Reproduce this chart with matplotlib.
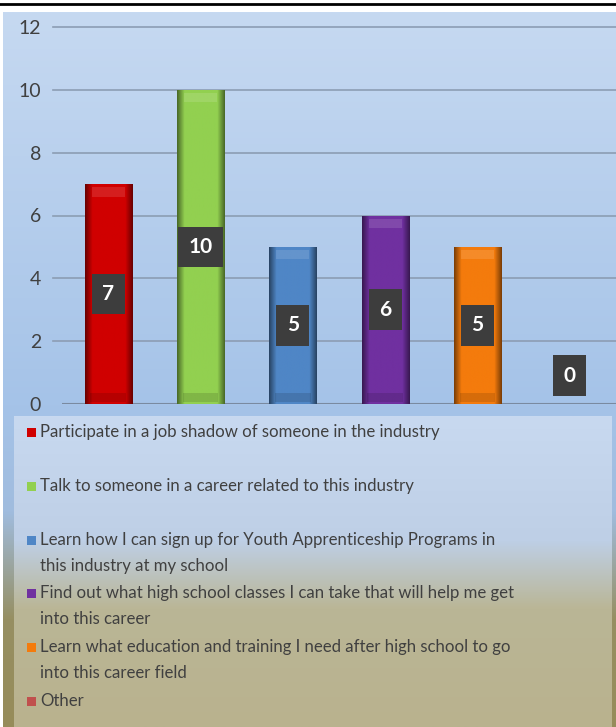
import matplotlib
matplotlib.use("Agg")
import matplotlib.pyplot as plt
import numpy as np
from matplotlib.patches import Rectangle
from matplotlib.colors import LinearSegmentedColormap

categories = [
    "Participate in a job shadow of someone in the industry",
    "Talk to someone in a career related to this industry",
    "Learn how I can sign up for Youth Apprenticeship Programs in\nthis industry at my school",
    "Find out what high school classes I can take that will help me get\ninto this career",
    "Learn what education and training I need after high school to go\ninto this career field",
    "Other",
]
values = [7, 10, 5, 6, 5, 0]
colors = ["#d00000", "#92d050", "#4f86c6", "#7030a0", "#f47b0c", "#c0504d"]
yticks = [0, 2, 4, 6, 8, 10, 12]

W, H = 616, 727
fig = plt.figure(figsize=(W / 100, H / 100), dpi=100)
fig.patch.set_facecolor("white")

def fx(px):
    return px / W

def fy(py):
    return 1 - py / H

# outer background gradient
bg = fig.add_axes([fx(3), fy(727), fx(613), (727 - 12) / H], zorder=0)
bg.axis("off")
stops = [(0.0, (198, 217, 241)), (0.55, (165, 195, 232)), (0.70, (160, 188, 222)),
         (0.85, (150, 143, 98)), (1.0, (150, 140, 90))]
cm_out = LinearSegmentedColormap.from_list("o", [(p, np.array(c) / 255) for p, c in stops])
grad = np.linspace(0, 1, 256).reshape(-1, 1)
bg.imshow(grad, aspect="auto", cmap=cm_out, extent=(0, 1, 1, 0))
bg.set_xlim(0, 1); bg.set_ylim(1, 0)

# legend panel gradient
lp = fig.add_axes([fx(14), fy(727), fx(598), (727 - 416) / H], zorder=1)
lp.axis("off")
stops2 = [(0.0, (200, 217, 240)), (0.40, (190, 207, 230)), (0.62, (186, 182, 150)),
          (1.0, (185, 178, 142))]
cm_in = LinearSegmentedColormap.from_list("i", [(p, np.array(c) / 255) for p, c in stops2])
lp.imshow(grad, aspect="auto", cmap=cm_in, extent=(0, 1, 1, 0))
lp.set_xlim(0, 1); lp.set_ylim(1, 0)

# top black line
fig.add_artist(plt.Line2D([0, 1], [fy(4), fy(4)], color="black", lw=2))

# main axes
ax = fig.add_axes([fx(62), fy(404), fx(616 - 62), (404 - 27) / H], zorder=2)
ax.patch.set_alpha(0)
for s in ax.spines.values():
    s.set_visible(False)
ax.set_xlim(-0.5, len(values) - 0.5)
ax.set_ylim(0, 12)
ax.set_yticks(yticks)
ax.set_yticklabels([str(t) for t in yticks], fontsize=14, color="#404040", family="Lato")
ax.tick_params(axis="y", length=0, pad=15)
ax.set_xticks([])
for t in yticks[1:]:
    ax.plot([-0.6, len(values) - 0.5], [t, t], color="#8c9db3", lw=1.2, zorder=1, clip_on=False)
ax.axhline(0, color="#7a8aa0", lw=1.5, zorder=1)

bw = 0.51
x = np.arange(len(values))
bars = ax.bar(x, values, width=bw, color=colors, zorder=3, edgecolor="none")
hgrad = np.concatenate([np.linspace(0.5, 0.95, 15), np.ones(70), np.linspace(0.95, 0.5, 15)]).reshape(1, -1)
for b, c in zip(bars, colors):
    if b.get_height() <= 0:
        continue
    rgb = np.array(matplotlib.colors.to_rgb(c))
    img = hgrad[..., None] * rgb[None, None, :]
    x0 = b.get_x(); w = b.get_width(); h = b.get_height()
    im = ax.imshow(img, extent=(x0, x0 + w, 0, h), aspect="auto", zorder=3.5)
    im.set_clip_path(b)
    ax.add_patch(Rectangle((x0 + w * 0.15, h - 0.4), w * 0.7, 0.3,
                           facecolor="white", alpha=0.12, zorder=4, lw=0))
    ax.add_patch(Rectangle((x0 + w * 0.12, 0.05), w * 0.76, 0.3,
                           facecolor="black", alpha=0.12, zorder=4, lw=0))
ax.set_xlim(-0.5, len(values) - 0.5)
ax.set_ylim(0, 12)

for xi, v in zip(x, values):
    ypos = v / 2 if v > 0 else 0.9
    ax.text(xi, ypos, str(v), ha="center", va="center", color="white",
            fontsize=15, fontweight="bold", family="Lato", zorder=6,
            bbox=dict(boxstyle="square,pad=0.5", facecolor="#3d3d3d", edgecolor="none"))

# legend (manual)
leg_y = [432, 486, 540, 593, 647, 701]
for yy, lab, c in zip(leg_y, categories, colors):
    fig.add_artist(Rectangle((fx(27), fy(yy + 5)), fx(9), 9 / H, facecolor=c,
                             edgecolor="none", transform=fig.transFigure, zorder=5))
    lines = lab.split("\n")
    for k, line in enumerate(lines):
        fig.text(fx(40), fy(yy + 26 * k), line, ha="left", va="center", fontsize=12.1,
                 color="#404040", family="Lato", zorder=5)

fig.savefig("out.png", dpi=100)
